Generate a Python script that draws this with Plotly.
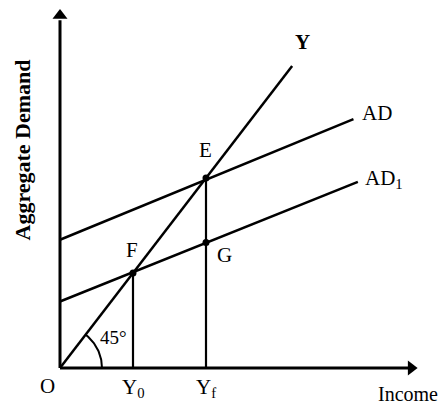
import numpy as np
import plotly.graph_objects as go

# ---- data (income units; 45-degree line is Y = income) ----
y45_x = [0, 15.9]
y45_y = [0, 15.9]
ad_x = [0, 20.1]
ad_y = [6.75, 13.1]
ad1_x = [0, 20.4]
ad1_y = [3.5, 9.8]
point_names = ["E", "F", "G"]
point_x = [10, 5, 10]
point_y = [10, 5, 6.6]
tick_x = [0, 5, 10]
tick_labels = ["O", "Y<sub>0</sub>", "Y<sub>f</sub>"]
x_axis_end = 24.5
y_axis_end = 19.0

# pixel scale (px per unit) used for the layout
PX_X = 14.6
PX_Y = 19.0
W, H = 443, 405
ORIGIN_PX = (60, 368)
xr = [(0 - ORIGIN_PX[0]) / PX_X, (W - ORIGIN_PX[0]) / PX_X]
yr = [(ORIGIN_PX[1] - H) / PX_Y, ORIGIN_PX[1] / PX_Y]

FONT = "Liberation Serif"
fig = go.Figure()

def line(xs, ys, w=2.5):
    fig.add_trace(go.Scatter(x=xs, y=ys, mode="lines",
                             line=dict(color="black", width=w),
                             hoverinfo="skip", showlegend=False))

# axes
line([0, x_axis_end - 0.6], [0, 0], 3)
line([0, 0], [0, y_axis_end - 0.7], 3)
# curves
line(y45_x, y45_y)
line(ad_x, ad_y)
line(ad1_x, ad1_y)
# verticals from F and E
line([point_x[1], point_x[1]], [0, point_y[1]], 2.2)
line([point_x[0], point_x[0]], [0, point_y[0]], 2.2)

# 45 degree arc (drawn in pixel space)
ang = np.arctan2(y45_y[1] * PX_Y, y45_x[1] * PX_X)
t = np.linspace(0, ang, 40)
r = 42
line(list(r * np.cos(t) / PX_X), list(r * np.sin(t) / PX_Y), 2)

# points
fig.add_trace(go.Scatter(x=point_x, y=point_y, mode="markers",
                         marker=dict(color="black", size=7),
                         hoverinfo="skip", showlegend=False))

# arrowheads
fig.add_trace(go.Scatter(x=[0], y=[y_axis_end - 0.45], mode="markers",
                         marker=dict(symbol="triangle-up", size=13, color="black"),
                         hoverinfo="skip", showlegend=False))
fig.add_trace(go.Scatter(x=[x_axis_end - 0.45], y=[0], mode="markers",
                         marker=dict(symbol="triangle-right", size=13, color="black"),
                         hoverinfo="skip", showlegend=False))

ann = []
def label(x, y, text, size=21, **kw):
    ann.append(dict(x=x, y=y, xref="x", yref="y", text=text, showarrow=False,
                    borderpad=0,
                    font=dict(family=FONT, size=size, color="black"), **kw))

label(-0.85, -0.95, tick_labels[0])
label(tick_x[1], -1.05, tick_labels[1])
label(tick_x[2], -1.05, tick_labels[2])
label(23.85, -1.38, "Income", size=20)
label(16.6, 17.15, "<b>Y</b>")
label(21.7, 13.4, "AD")
label(22.2, 9.95, "AD<sub>1</sub>")
label(9.95, 11.45, point_names[0])
label(4.9, 6.2, point_names[1])
label(11.3, 5.95, point_names[2])
label(3.65, 1.6, "45°", size=19)
label(-2.6, 11.45, "<b>Aggregate Demand</b>", size=22, textangle=-90)

fig.update_layout(
    width=W, height=H,
    margin=dict(l=0, r=0, t=0, b=0),
    paper_bgcolor="white", plot_bgcolor="white",
    xaxis=dict(range=xr, visible=False, fixedrange=True),
    yaxis=dict(range=yr, visible=False, fixedrange=True),
    annotations=ann,
    showlegend=False,
)
fig.write_html("out.html", config={"displayModeBar": False},
               post_script="document.body.style.margin='0';document.body.style.overflow='hidden';")
